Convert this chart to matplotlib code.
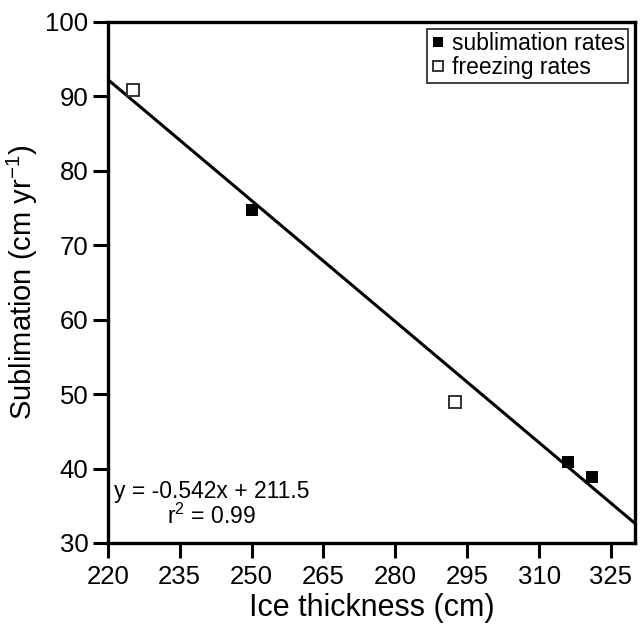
import matplotlib
matplotlib.use("Agg")
import matplotlib.pyplot as plt
import numpy as np

plt.rcParams['font.family'] = ['Liberation Sans', 'DejaVu Sans']
plt.rcParams['mathtext.fontset'] = 'custom'
plt.rcParams['mathtext.rm'] = 'Liberation Sans'
plt.rcParams['mathtext.it'] = 'Liberation Sans'
plt.rcParams['mathtext.bf'] = 'Liberation Sans'

# Data
sub_thickness = [250, 316, 321]
sub_rates = [74.8, 40.9, 38.9]
frz_thickness = [225.2, 292.4]
frz_rates = [90.9, 48.9]
fit_slope = -0.542
fit_intercept = 211.5
xticks = [220, 235, 250, 265, 280, 295, 310, 325]
yticks = [30, 40, 50, 60, 70, 80, 90, 100]

fig = plt.figure(figsize=(6.42, 6.27), dpi=100)
ax = fig.add_axes([0.168, 0.134, 0.821, 0.831])

xfit = np.array([220, 330])
ax.plot(xfit, fit_slope * xfit + fit_intercept, color='black', lw=2.2, zorder=2)

ax.plot(sub_thickness, sub_rates, 's', color='black', markersize=8.5,
        markeredgewidth=0, label='sublimation rates', zorder=3)
ax.plot(frz_thickness, frz_rates, 's', markerfacecolor='white',
        markeredgecolor='#333333', markersize=8.5, markeredgewidth=1.4,
        label='freezing rates', linestyle='none', zorder=3)

ax.set_xlim(220, 330)
ax.set_ylim(30, 100)
ax.set_xticks(xticks)
ax.set_yticks(yticks)
ax.tick_params(axis='both', direction='out', length=11, width=2.2,
               labelsize=18.5)
ax.tick_params(axis='x', pad=5)
ax.tick_params(axis='y', pad=3)
for s in ax.spines.values():
    s.set_linewidth(2.4)

ax.set_xlabel('Ice thickness (cm)', fontsize=22, labelpad=3)
ax.set_ylabel(r'Sublimation (cm yr$^{-1}$)', fontsize=21, labelpad=4)

ax.text(0.197, 0.074, 'y = -0.542x + 211.5\nr$^2$ = 0.99', transform=ax.transAxes,
        ha='center', va='center', fontsize=16.5, linespacing=1.05)

leg = ax.legend(loc='upper right', fontsize=16.5, frameon=True, fancybox=False,
                edgecolor='black', handlelength=0.6, handletextpad=0.3,
                borderaxespad=0.3, borderpad=0.15, labelspacing=0.05,
                markerscale=0.85)
leg.get_frame().set_linewidth(1.3)

fig.savefig('out.png', dpi=100)
